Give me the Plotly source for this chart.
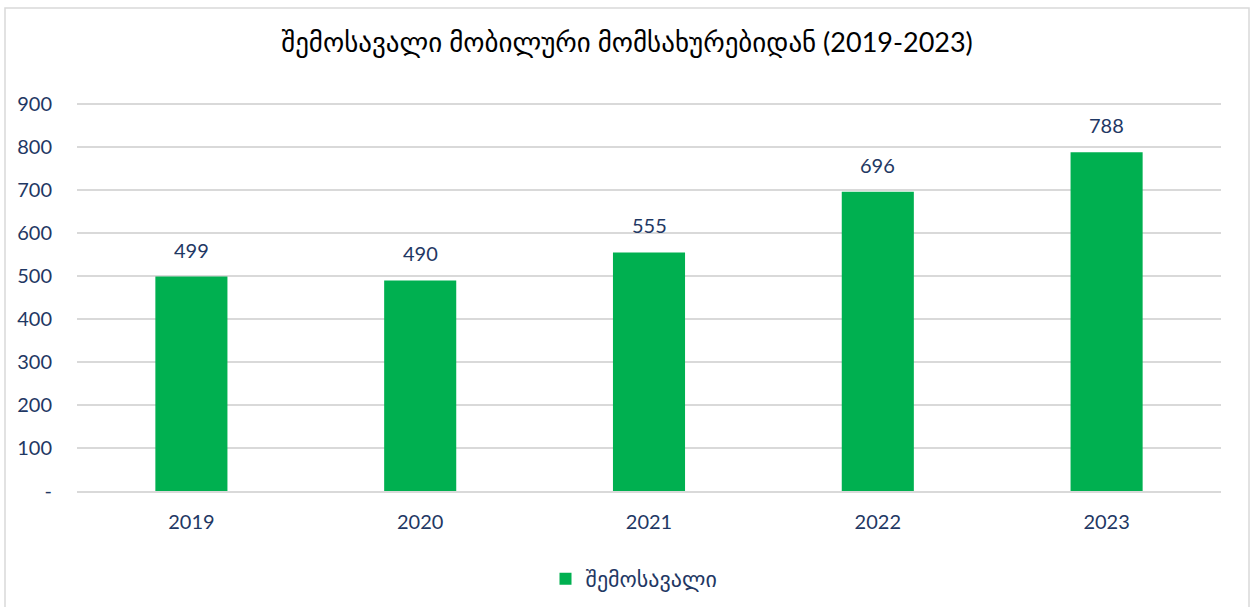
import plotly.graph_objects as go

years = ["2019", "2020", "2021", "2022", "2023"]
revenue = [499, 490, 555, 696, 788]
series_name = "შემოსავალი"
title_text = "შემოსავალი მობილური მომსახურებიდან (2019-2023)"
tick_vals = [0, 100, 200, 300, 400, 500, 600, 700, 800, 900]
tick_text = ["-", "100", "200", "300", "400", "500", "600", "700", "800", "900"]

navy = "#1F3864"
green = "#00B050"
font_fam = "Lato, 'DejaVu Sans', sans-serif"

fig = go.Figure()
fig.add_trace(go.Bar(
    x=years, y=revenue, name=series_name,
    marker=dict(color=green, line=dict(width=0)),
    showlegend=True,
))

for i, v in enumerate(revenue):
    fig.add_annotation(x=i, y=v, xref="x", yref="y", text=str(v), showarrow=False,
                       yanchor="bottom", yshift=13,
                       font=dict(family=font_fam, size=20, color=navy))

L, R, T, B = 77, 32, 102, 116
W, H = 1253, 607
pw, ph = W - L - R, H - T - B

fig.add_shape(type="rect", xref="paper", yref="paper",
              x0=(5 - L) / pw, x1=(1249 - L) / pw,
              y0=-(B + 20) / ph, y1=1 + (T - 8) / ph,
              line=dict(color="#D9D9D9", width=1.5), fillcolor="rgba(0,0,0,0)",
              layer="below")

fig.update_layout(
    width=W, height=H,
    margin=dict(l=L, r=R, t=T, b=B, autoexpand=False),
    paper_bgcolor="white", plot_bgcolor="white",
    bargap=0.685,
    title=dict(text=title_text, x=627 / W, xanchor="center", y=1 - 43 / H, yanchor="middle",
               font=dict(family=font_fam, size=27, color="#000000")),
    font=dict(family=font_fam, color=navy),
    xaxis=dict(type="category", range=[-0.5, len(years) - 0.5], showgrid=False,
               showline=True, linecolor="#D9D9D9", linewidth=1.5,
               ticks="", tickfont=dict(size=20, color=navy), ticklabelstandoff=12),
    yaxis=dict(range=[0, 905], tickvals=tick_vals, ticktext=tick_text,
               showgrid=True, gridcolor="#D9D9D9", gridwidth=1.5,
               zeroline=False, showline=False, ticks="",
               tickfont=dict(size=20, color=navy), ticklabelstandoff=24),
    legend=dict(orientation="h", xref="container", yref="container",
                x=634 / W, xanchor="center", y=1 - 579 / H, yanchor="middle",
                font=dict(family=font_fam, size=22, color=navy), itemwidth=30),
)

fig.write_html("out.html", config={"displayModeBar": False},
               post_script="document.body.style.margin='0';")
